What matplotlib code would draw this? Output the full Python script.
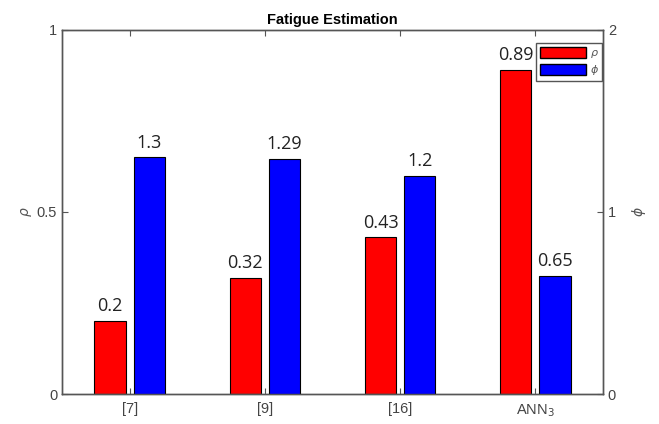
import numpy as np
import matplotlib.pyplot as plt
from matplotlib.patches import Patch

categories = ["[7]", "[9]", "[16]", "ANN$_3$"]
rho = [0.2, 0.32, 0.43, 0.89]
phi = [1.3, 1.29, 1.2, 0.65]
rho_labels = ["0.2", "0.32", "0.43", "0.89"]
phi_labels = ["1.3", "1.29", "1.2", "0.65"]

GRAY = "#555555"
fig = plt.figure(figsize=(6.59, 4.24), dpi=100)
ax = fig.add_axes([62 / 659, 30 / 424, 541 / 659, 364 / 424])
ax2 = ax.twinx()

x = np.arange(1, len(categories) + 1)
w = 0.23
off = 0.145
ax.bar(x - off, rho, w, color="#ff0000", edgecolor="black", linewidth=0.8, zorder=2)
ax2.bar(x + off, phi, w, color="#0000ff", edgecolor="black", linewidth=0.8, zorder=2)

for xi, v, s in zip(x, rho, rho_labels):
    ax.text(xi - off, v + 0.016, s, ha="center", va="bottom", fontsize=13,
            family="Open Sans", color="#222222")
for xi, v, s in zip(x, phi, phi_labels):
    ax2.text(xi + off, v + 0.032, s, ha="center", va="bottom", fontsize=13,
             family="Open Sans", color="#222222")

ax.set_xlim(0.5, 4.5)
ax.set_ylim(0, 1)
ax2.set_ylim(0, 2)
ax.set_xticks(x)
ax.set_xticklabels(categories)
ax.set_yticks([0, 0.5, 1])
ax.set_yticklabels(["0", "0.5", "1"])
ax2.set_yticks([0, 1, 2])

for a in (ax, ax2):
    for sp in a.spines.values():
        sp.set_color(GRAY)
        sp.set_linewidth(1.0)
    a.tick_params(direction="in", colors=GRAY, labelcolor="#444444",
                  labelsize=10.5, length=4)
    for lab in a.get_xticklabels() + a.get_yticklabels():
        lab.set_family("Liberation Sans")
ax.tick_params(axis="x", top=True, pad=6)

ax.set_ylabel(r"$\rho$", color=GRAY, fontsize=10, labelpad=2)
ax2.set_ylabel(r"$\phi$", color=GRAY, fontsize=10, labelpad=10, rotation=90)
ax.set_title("Fatigue Estimation", fontsize=10.5, fontweight="bold",
             family="Liberation Sans", pad=4)

handles = [Patch(facecolor="#ff0000", edgecolor="black"),
           Patch(facecolor="#0000ff", edgecolor="black")]
leg = ax.legend(handles, [r"$\rho$", r"$\phi$"], loc="upper right",
                bbox_to_anchor=(0.999, 0.965), fontsize=8, handlelength=4.2,
                handleheight=1.2, handletextpad=0.3, borderpad=0.35,
                labelspacing=0.3, fancybox=False, framealpha=1,
                borderaxespad=0.0)
leg.get_frame().set_edgecolor(GRAY)
for t in leg.get_texts():
    t.set_color(GRAY)

fig.savefig("out.png", dpi=100)
